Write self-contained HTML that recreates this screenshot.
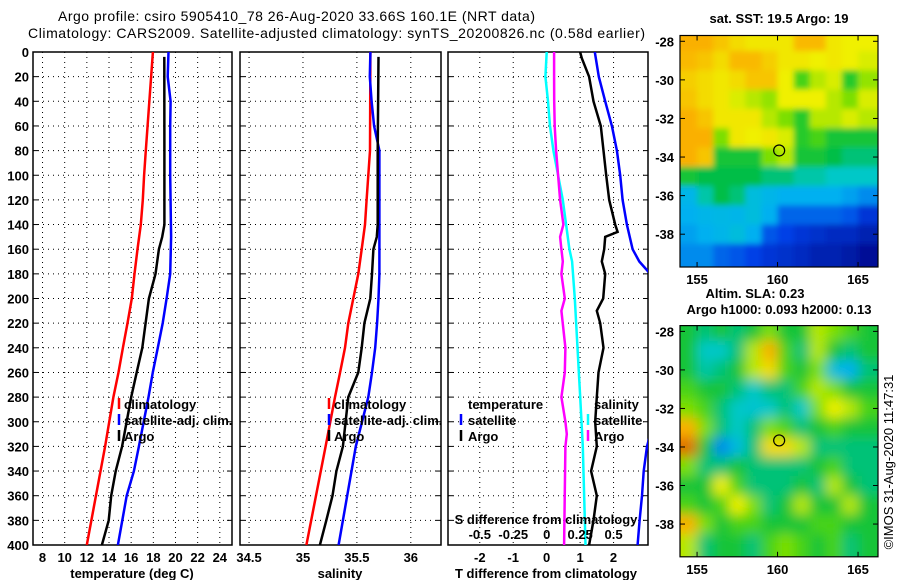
<!DOCTYPE html>
<html><head><meta charset="utf-8"><style>
html,body{margin:0;padding:0;background:#fff;}
svg{display:block;font-family:"Liberation Sans",sans-serif;}
.t{font-weight:bold;font-size:13px;}
</style></head><body>
<svg id="c" width="900" height="580" xmlns="http://www.w3.org/2000/svg">
<defs>
<clipPath id="cp1"><rect x="33" y="52" width="199" height="493"/></clipPath>
<clipPath id="cp2"><rect x="240" y="52" width="201" height="493"/></clipPath>
<clipPath id="cp3"><rect x="448" y="52" width="200" height="493"/></clipPath>
<clipPath id="cm1"><rect x="680" y="35.5" width="198" height="231.5"/></clipPath>
<clipPath id="cm2"><rect x="680" y="325.6" width="198" height="231.2"/></clipPath>
<filter id="bl" x="-5%" y="-5%" width="110%" height="110%"><feGaussianBlur stdDeviation="6"/></filter>
<filter id="bl2" x="-5%" y="-5%" width="110%" height="110%"><feGaussianBlur stdDeviation="3"/></filter>
</defs>
<text x="58" y="21" font-size="14" textLength="477">Argo profile: csiro 5905410_78 26-Aug-2020 33.66S 160.1E (NRT data)</text>
<text x="28" y="38" font-size="14" textLength="617">Climatology: CARS2009. Satellite-adjusted climatology: synTS_20200826.nc (0.58d earlier)</text>
<g id="g"></g>
</svg>
<script>
// ---- data ----
const depthTicks=[0,20,40,60,80,100,120,140,160,180,200,220,240,260,280,300,320,340,360,380,400];
const tempTicks=[8,10,12,14,16,18,20,22,24];
const salTicks=[34.5,35,35.5,36];
const salTickLabels=["34.5","35","35.5","36"];
const tdTicks=[-2,-1,0,1,2];
const sdTicks=[-0.5,-0.25,0,0.25,0.5];
const sdTickLabels=["-0.5","-0.25","0","0.25","0.5"];

const climTDepth=[0,80,100,120,140,160,180,200,220,240,260,280,320,400];
const climT=[17.96,17.32,17.17,17.05,16.87,16.57,16.3,16.06,15.67,15.25,14.86,14.4,13.65,12.0];
const satTDepth=[0,20,40,60,100,150,180,200,220,240,260,280,320,340,360,380,400];
const satT=[19.37,19.3,19.56,19.52,19.52,19.6,19.52,19.2,18.85,18.4,17.95,17.56,16.7,16.25,15.6,15.2,14.8];
const argoTDepth=[4,80,140,150,160,180,200,220,240,260,280,320,340,360,380,400];
const argoT=[18.99,19.0,19.0,18.8,18.5,18.2,17.6,17.3,17.0,16.5,16.0,15.18,14.6,14.2,13.97,13.36];

const climSDepth=[0,80,100,120,140,160,180,200,220,240,260,280,320,400];
const climS=[35.625,35.622,35.606,35.59,35.575,35.545,35.513,35.467,35.42,35.39,35.344,35.297,35.21,35.032];
const satSDepth=[0,20,40,60,80,180,200,220,240,260,280,320,340,360,380,400];
const satS=[35.625,35.62,35.636,35.66,35.709,35.709,35.7,35.687,35.67,35.64,35.606,35.49,35.45,35.41,35.37,35.33];
const argoSDepth=[4,80,140,150,160,180,200,220,240,260,280,320,340,360,380,400];
const argoS=[35.7,35.693,35.693,35.685,35.653,35.64,35.624,35.57,35.545,35.513,35.42,35.37,35.31,35.274,35.216,35.157];

const dTDepth=[0,5,20,40,60,80,100,120,140,146,150,160,170,180,200,210,220,240,260,280,300,320,340,360,380,400];
const argoDT=[1.0,1.05,1.27,1.4,1.62,1.7,1.78,1.87,2.05,2.12,1.75,1.72,1.65,1.75,1.69,1.5,1.6,1.7,1.55,1.5,1.45,1.5,1.33,1.5,1.4,1.27];
const satDTDepth=[0,20,40,60,80,100,120,140,160,170,180,200,300,320,340,360,380,400];
const satDT=[1.44,1.56,1.75,1.95,2.1,2.2,2.27,2.4,2.57,2.77,3.1,3.4,3.2,3.0,2.9,2.85,2.78,2.72];
const dSDepth=[0,20,40,60,80,100,120,140,150,160,170,180,200,210,240,260,280,300,310,320,400];
const argoDS=[0.055,0.055,0.056,0.06,0.07,0.085,0.1,0.125,0.1,0.11,0.12,0.11,0.135,0.11,0.14,0.135,0.11,0.14,0.15,0.14,0.13];
const satDSDepth=[0,20,40,60,80,100,120,140,160,170,200,240,280,320,400];
const satDS=[0.0,-0.01,0.01,0.025,0.05,0.085,0.12,0.145,0.17,0.19,0.21,0.23,0.25,0.27,0.29];

const mapLats=[-28,-29,-30,-31,-32,-33,-34,-35,-36,-37,-38,-39];
const mapLons=[154.5,155.5,156.5,157.5,158.5,159.5,160.5,161.5,162.5,163.5,164.5,165.5];
const sstGrid=[
[0.85,0.85,0.8,0.75,0.72,0.72,0.72,0.83,0.83,0.72,0.7,0.7],
[0.83,0.8,0.75,0.83,0.83,0.78,0.72,0.72,0.7,0.72,0.7,0.68],
[0.78,0.75,0.72,0.75,0.8,0.8,0.7,0.55,0.65,0.68,0.52,0.62],
[0.8,0.75,0.72,0.68,0.65,0.62,0.7,0.7,0.7,0.65,0.6,0.68],
[0.85,0.8,0.72,0.72,0.72,0.65,0.6,0.52,0.65,0.65,0.68,0.65],
[0.85,0.85,0.6,0.72,0.7,0.72,0.68,0.52,0.55,0.5,0.5,0.5],
[0.85,0.8,0.5,0.5,0.5,0.6,0.65,0.5,0.5,0.48,0.45,0.45],
[0.5,0.48,0.48,0.48,0.48,0.45,0.45,0.42,0.42,0.4,0.4,0.4],
[0.32,0.42,0.48,0.45,0.35,0.32,0.3,0.3,0.3,0.3,0.28,0.25],
[0.3,0.32,0.33,0.32,0.35,0.3,0.2,0.2,0.2,0.2,0.18,0.12],
[0.28,0.3,0.32,0.35,0.3,0.18,0.15,0.12,0.1,0.08,0.08,0.05],
[0.25,0.25,0.2,0.18,0.15,0.12,0.1,0.08,0.05,0.05,0.03,0.0]];
const slaGrid=[
[0.5,0.45,0.5,0.45,0.5,0.6,0.5,0.5,0.65,0.6,0.55,0.5],
[0.5,0.4,0.4,0.45,0.65,0.85,0.55,0.45,0.65,0.5,0.45,0.5],
[0.5,0.42,0.45,0.5,0.65,0.75,0.55,0.5,0.6,0.35,0.3,0.45],
[0.55,0.5,0.5,0.45,0.4,0.45,0.45,0.55,0.65,0.6,0.5,0.5],
[0.6,0.55,0.45,0.4,0.38,0.4,0.45,0.4,0.6,0.7,0.65,0.55],
[0.85,0.6,0.45,0.4,0.45,0.6,0.55,0.45,0.5,0.55,0.5,0.5],
[0.95,0.5,0.25,0.35,0.45,0.75,0.75,0.65,0.45,0.45,0.45,0.45],
[0.6,0.45,0.45,0.5,0.45,0.45,0.45,0.45,0.5,0.55,0.45,0.45],
[0.5,0.5,0.7,0.55,0.45,0.45,0.45,0.5,0.45,0.65,0.5,0.45],
[0.55,0.5,0.55,0.7,0.6,0.45,0.5,0.65,0.5,0.5,0.65,0.5],
[0.85,0.6,0.5,0.55,0.55,0.5,0.5,0.5,0.55,0.55,0.5,0.5],
[0.65,0.45,0.5,0.5,0.45,0.55,0.6,0.55,0.5,0.55,0.45,0.5]];
const floatLon=160.1, floatLat=-33.66;
const mapLatTicks=[-28,-30,-32,-34,-36,-38];
const mapLonTicks=[155,160,165];

// ---- helpers ----
const NS="http://www.w3.org/2000/svg";
const G=document.getElementById('g');
function mk(tag,at,par){const e=document.createElementNS(NS,tag);for(const k in at)e.setAttribute(k,at[k]);(par||G).appendChild(e);return e;}
const Y0=52,Y1=545;
const yD=d=>Y0+(d-0)*(Y1-Y0)/400;
function lin(d0,d1,r0,r1){return v=>r0+(v-d0)*(r1-r0)/(d1-d0);}
const xT=lin(7.14,25.1,33,232);
const xS=lin(34.416,36.28,240,441);
const xDT=lin(-2.95,3.03,448,648);
const xDS=lin(0,1,546.7,680.5);

function panel(x0,x1,name,xs,ticks,labels,clip){
  const g=mk('g',{});
  
  
  ticks.forEach((t,i)=>{const x=xs(t);
    const l=mk('line',{x1:x,x2:x,y1:Y0,y2:Y1,stroke:'#000','stroke-width':1,'stroke-dasharray':'1,4'},g);
    
    
    const tx=mk('text',{x:x,y:Y1+17,'text-anchor':'middle',class:'t'},g);
    tx.textContent=labels?labels[i]:String(t);
    
    
  });
  depthTicks.forEach(d=>{const y=yD(d);
    if(d>0&&d<400){const l=mk('line',{x1:x0,x2:x1,y1:y,y2:y,stroke:'#000','stroke-width':1,'stroke-dasharray':'1,4'},g);
      
      }
    mk('line',{x1:x0,x2:x0+5,y1:y,y2:y,stroke:'#000'},g);
    mk('line',{x1:x1-5,x2:x1,y1:y,y2:y,stroke:'#000'},g);
  });
  const r=mk('rect',{x:x0,y:Y0,width:x1-x0,height:Y1-Y0,fill:'none',stroke:'#000','stroke-width':1.5},g);
  
  
  return g;
}
function series(xs,vals,depths,col,w,clip,name){
  const pts=vals.map((v,i)=>xs(v).toFixed(1)+','+yD(depths[i]).toFixed(1)).join(' ');
  const p=mk('polyline',{points:pts,fill:'none',stroke:col,'stroke-width':w,'clip-path':'url(#'+clip+')'});
  
  
}
function txt(x,y,s,name,anchor){const t=mk('text',{x:x,y:y,class:'t','text-anchor':anchor||'start'});t.textContent=s;
  
  return t;}
function legTick(x,y,col,name){const l=mk('line',{x1:x,x2:x,y1:y-11,y2:y,stroke:col,'stroke-width':2.5});
  
  }

// y labels
depthTicks.forEach(d=>{const t=txt(29,yD(d)+5,String(d),'y-tick-label','end');});

// panel 1
panel(33,232,'temperature-panel',xT,tempTicks,null,'cp1');
series(xT,climT,climTDepth,'#f00',2.5,'cp1','climatology-temperature-line');
series(xT,satT,satTDepth,'#00f',2.5,'cp1','satellite-temperature-line');
series(xT,argoT,argoTDepth,'#000',2.5,'cp1','argo-temperature-line');
txt(132,578,'temperature (deg C)','x-axis-title','middle');
legTick(119,409,'#f00','legend-climatology-swatch');txt(124,409,'climatology','legend-climatology');
legTick(119,425,'#00f','legend-satellite-swatch');txt(124,425,'satellite-adj. clim.','legend-satellite');
legTick(119,441,'#000','legend-argo-swatch');txt(124,441,'Argo','legend-argo');

// panel 2
panel(240,441,'salinity-panel',xS,salTicks,salTickLabels,'cp2');
series(xS,climS,climSDepth,'#f00',2.5,'cp2','climatology-salinity-line');
series(xS,satS,satSDepth,'#00f',2.5,'cp2','satellite-salinity-line');
series(xS,argoS,argoSDepth,'#000',2.5,'cp2','argo-salinity-line');
txt(340,578,'salinity','x-axis-title','middle');
legTick(329,409,'#f00','legend-climatology-swatch');txt(334,409,'climatology','legend-climatology');
legTick(329,425,'#00f','legend-satellite-swatch');txt(334,425,'satellite-adj. clim.','legend-satellite');
legTick(329,441,'#000','legend-argo-swatch');txt(334,441,'Argo','legend-argo');

// panel 3
panel(448,648,'difference-panel',xDT,tdTicks,null,'cp3');
series(xDS,satDS,satDSDepth,'#0ff',2.5,'cp3','satellite-salinity-diff-line');
series(xDS,argoDS,dSDepth,'#f0f',2.5,'cp3','argo-salinity-diff-line');
series(xDT,satDT,satDTDepth,'#00f',2.5,'cp3','satellite-temperature-diff-line');
series(xDT,argoDT,dTDepth,'#000',2.5,'cp3','argo-temperature-diff-line');
txt(546,578,'T difference from climatology','x-axis-title','middle');
txt(546,524,'S difference from climatology','s-axis-title','middle');
sdTicks.forEach((s,i)=>{txt(xDS(s),539,sdTickLabels[i],'s-tick-label','middle');});
txt(468,409,'temperature','legend-temperature-header');txt(594,409,'salinity','legend-salinity-header');
legTick(461,425,'#00f','legend-sat-t-swatch');txt(468,425,'satellite','legend-sat-t');
legTick(461,441,'#000','legend-argo-t-swatch');txt(468,441,'Argo','legend-argo-t');
legTick(588,425,'#0ff','legend-sat-s-swatch');txt(594,425,'satellite','legend-sat-s');
legTick(588,441,'#f0f','legend-argo-s-swatch');txt(594,441,'Argo','legend-argo-s');

// ---- maps ----
const cstops=[[0,[0,16,150]],[0.15,[0,64,230]],[0.3,[0,176,240]],[0.4,[0,200,200]],[0.48,[0,190,70]],[0.58,[100,220,0]],[0.7,[240,240,0]],[0.85,[250,176,0]],[1,[210,80,0]]];
function cmap(v){for(let i=1;i<cstops.length;i++){if(v<=cstops[i][0]){const a=cstops[i-1],b=cstops[i];const f=(v-a[0])/(b[0]-a[0]);
  const c=a[1].map((x,k)=>Math.round(x+(b[1][k]-x)*f));return 'rgb('+c.join(',')+')';}}return 'rgb(210,80,0)';}
function mapPanel(top,bot,grid,clip,filt,name){
  const xL=lin(153.94,166.24,680,878);
  const yL=lin(-27.7,-39.7,top,bot);
  const g=mk('g',{'clip-path':'url(#'+clip+')'});
  
  
  const inner=mk('g',{filter:'url(#'+filt+')'},g);
  grid.forEach((row,i)=>row.forEach((v,j)=>{
    const x=xL(mapLons[j]-0.5-(j==0?1:0)),x2=xL(mapLons[j]+0.5+(j==11?1:0));
    const y=yL(mapLats[i]+0.5+(i==0?1:0)),y2=yL(mapLats[i]-0.5-(i==11?1:0));
    const r=mk('rect',{x:x,y:y,width:x2-x+0.5,height:y2-y+0.5,fill:cmap(v)},inner);
    
    
  }));
  const c=mk('circle',{cx:xL(floatLon),cy:yL(floatLat),r:5.5,fill:'none',stroke:'#000','stroke-width':1.2});
  
  
  mk('rect',{x:680,y:top,width:198,height:bot-top,fill:'none',stroke:'#000','stroke-width':1.2});
  mapLatTicks.forEach(l=>{const y=yL(l);mk('line',{x1:680,x2:685,y1:y,y2:y,stroke:'#000'});mk('line',{x1:873,x2:878,y1:y,y2:y,stroke:'#000'});
    txt(674,y+5,String(l),'map-lat-label','end');});
  mapLonTicks.forEach(l=>{const x=xL(l);mk('line',{x1:x,x2:x,y1:top,y2:top+5,stroke:'#000'});mk('line',{x1:x,x2:x,y1:bot-5,y2:bot,stroke:'#000'});
    txt(x,bot+17,String(l),'map-lon-label','middle');});
}
mapPanel(35.5,267,sstGrid,'cm1','bl2','sst-map');
txt(779,23,'sat. SST: 19.5 Argo: 19','sst-map-title','middle');
mapPanel(325.6,556.8,slaGrid,'cm2','bl','sla-map');
txt(755,298,'Altim. SLA: 0.23','sla-map-title','middle');
txt(779,314,'Argo h1000: 0.093 h2000: 0.13','sla-map-subtitle','middle');
const cr=mk('text',{x:0,y:0,'font-size':13,transform:'translate(893,462) rotate(-90)','text-anchor':'middle'});
cr.textContent='©IMOS 31-Aug-2020 11:47:31';


</script>
</body></html>
